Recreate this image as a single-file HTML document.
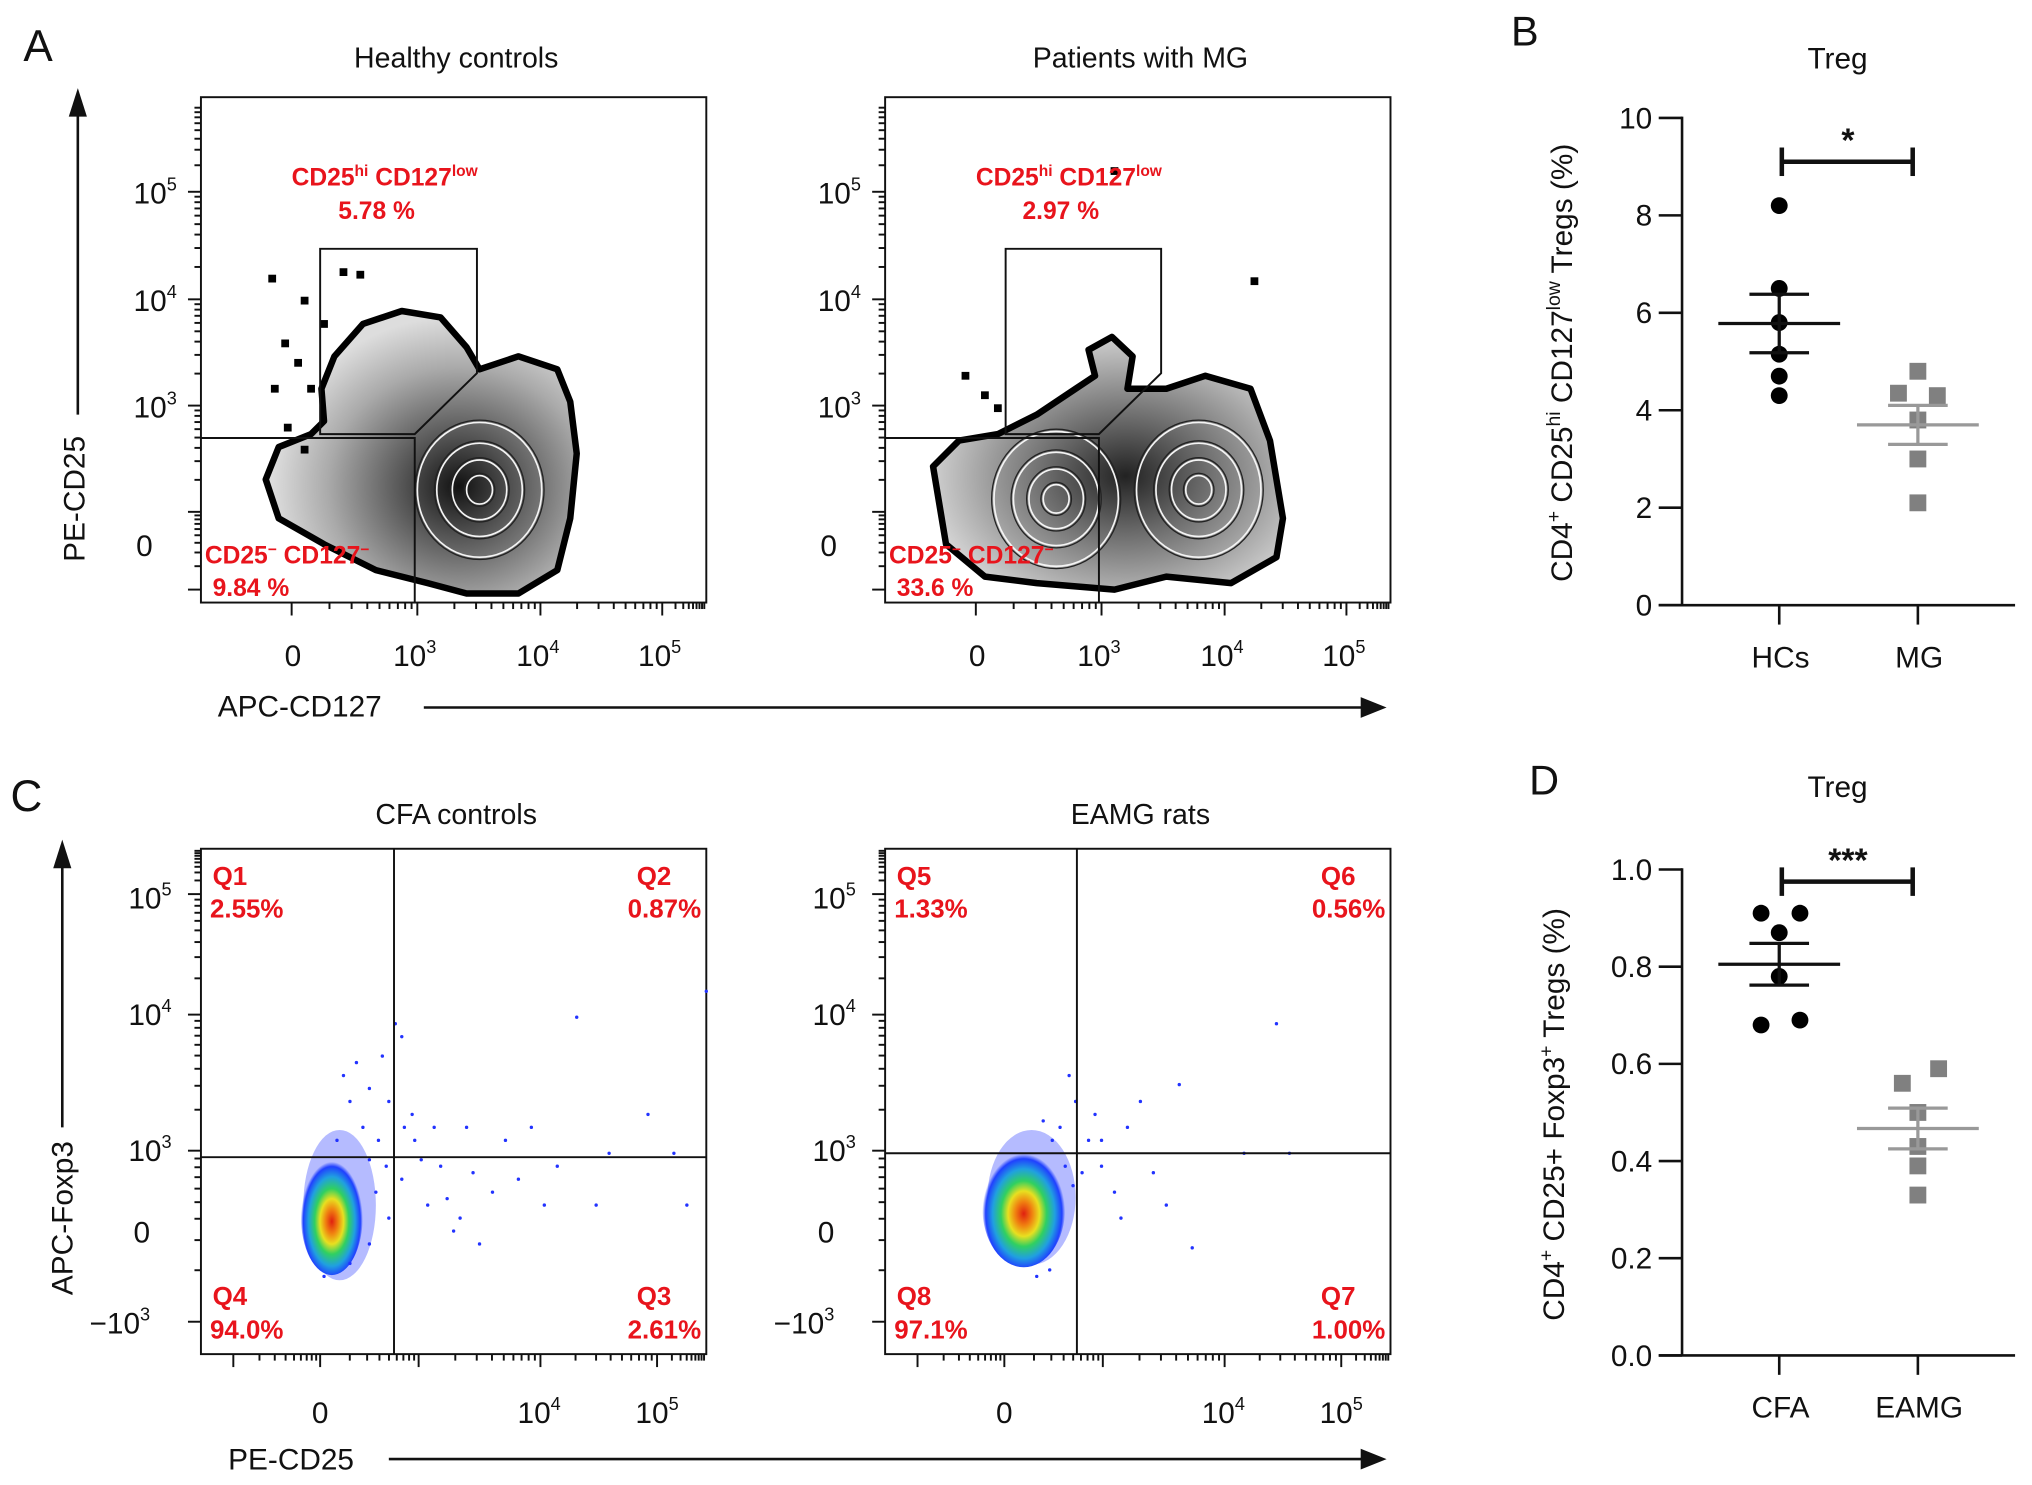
<!DOCTYPE html>
<html><head><meta charset="utf-8">
<style>
html,body{margin:0;padding:0;background:#fff;}
svg{display:block;}
text{font-family:"Liberation Sans",Arial,sans-serif;}
</style></head>
<body>
<svg id="fig" width="2032" height="1485" viewBox="0 0 1568 1146" xmlns="http://www.w3.org/2000/svg">
<defs>
<radialGradient id="grayA" cx="0.62" cy="0.62" r="0.6">
<stop offset="0" stop-color="#111"/><stop offset="0.3" stop-color="#555"/><stop offset="0.7" stop-color="#aaa"/><stop offset="1" stop-color="#ddd"/></radialGradient>
<radialGradient id="grayB" cx="0.55" cy="0.55" r="0.6">
<stop offset="0" stop-color="#222"/><stop offset="0.35" stop-color="#666"/><stop offset="0.75" stop-color="#b0b0b0"/><stop offset="1" stop-color="#ddd"/></radialGradient>
<radialGradient id="heat" cx="0.5" cy="0.55" r="0.5">
<stop offset="0" stop-color="#e02010"/><stop offset="0.2" stop-color="#f08010"/><stop offset="0.38" stop-color="#e8e020"/><stop offset="0.55" stop-color="#30d060"/><stop offset="0.75" stop-color="#20a0e0"/><stop offset="0.92" stop-color="#2040ff"/><stop offset="1" stop-color="#2040ff" stop-opacity="0"/></radialGradient>
</defs>
<g id="root"></g>
</svg>
<script>
// ---- Panel B data ----
const bCategories = ["HCs", "MG"];
const bHCs = [8.2, 6.5, 5.8, 5.15, 4.7, 4.3];
const bMG = [4.8, 4.35, 4.3, 3.8, 3.0, 2.1];
const bMean = [5.78, 3.7];
const bSem = [0.6, 0.4];
const bTicks = [0, 2, 4, 6, 8, 10];
// ---- Panel D data ----
const dCategories = ["CFA", "EAMG"];
const dCFA = [0.91, 0.91, 0.87, 0.78, 0.68, 0.69];
const dEAMG = [0.59, 0.56, 0.50, 0.43, 0.39, 0.33];
const dMean = [0.805, 0.467];
const dSem = [0.043, 0.042];
const dTicks = [0.0, 0.2, 0.4, 0.6, 0.8, 1.0];

const NS = "http://www.w3.org/2000/svg";
const root = document.getElementById("root");
function mk(tag, attrs, parent, txt) {
  const e = document.createElementNS(NS, tag);
  for (const k in attrs) e.setAttribute(k, attrs[k]);
  if (txt !== undefined) e.textContent = txt;
  (parent || root).appendChild(e);
  return e;
}
function txt(x, y, s, size, opts, name) {
  opts = opts || {};
  const t = mk("text", Object.assign({x: x, y: y, "font-size": size, fill: opts.fill || "#111", "text-anchor": opts.anchor || "start", "font-weight": opts.bold ? "bold" : "normal"}, opts.extra || {}));
  
  
  t.innerHTML = s;
  return t;
}
function line(x1, y1, x2, y2, w, c, name) {
  const l = mk("line", {x1: x1, y1: y1, x2: x2, y2: y2, stroke: c || "#111", "stroke-width": w || 1.5});
  
  
  return l;
}

txt(18, 47, "A", 34, {}, "panel-label-a");
txt(1166, 35, "B", 32, {}, "panel-label-b");
txt(8, 626, "C", 34, {}, "panel-label-c");
txt(1180, 613, "D", 32, {}, "panel-label-d");

function flowFrame(x0, y0, name) {
  const g = mk("g", {});
  
  
  mk("rect", {x: x0, y: y0, width: 390, height: 390, fill: "none", stroke: "#111", "stroke-width": 1.5}, g);
  return g;
}
function logMinor(g, x0, y0, decY, vertical, decs) {
  for (let i = 0; i < decs.length - 1; i++) {
    const a = decs[i], b = decs[i + 1];
    for (let m = 1; m <= 9; m++) {
      const p = a + (b - a) * Math.log10(m);
      const len = m === 1 ? 10 : 5;
      if (vertical) mk("line", {x1: x0 - len, y1: p, x2: x0, y2: p, stroke: "#111", "stroke-width": 1.5}, g);
      else mk("line", {x1: p, y1: y0, x2: p, y2: y0 + len, stroke: "#111", "stroke-width": 1.5}, g);
    }
  }
}

const aTitles = ["Healthy controls", "Patients with MG"];
const aHi = ["5.78 %", "2.97 %"];
const aLo = ["9.84 %", "33.6 %"];
[0, 1].forEach(function (k) {
  const ox = 155 + k * 528, oy = 75;
  const g = flowFrame(ox, oy, k ? "mg-flow-plot" : "hc-flow-plot");
  txt(ox + 197, 52, aTitles[k], 22, {anchor: "middle"}, "flow-title");
  logMinor(g, ox, oy, null, true, [455, 395, 313, 231, 148, 80]);
  logMinor(g, ox, oy + 390, null, false, [ox + 70, ox + 167, ox + 262, ox + 356, ox + 390]);
  txt(ox - 52, 157, "10<tspan font-size='14' dy='-10'>5</tspan>", 23, {}, "y-tick");
  txt(ox - 52, 240, "10<tspan font-size='14' dy='-10'>4</tspan>", 23, {}, "y-tick");
  txt(ox - 52, 322, "10<tspan font-size='14' dy='-10'>3</tspan>", 23, {}, "y-tick");
  txt(ox - 50, 429, "0", 23, {}, "y-tick");
  txt(ox + 71, 514, "0", 23, {anchor: "middle"}, "x-tick");
  [[167, 3], [262, 4], [356, 5]].forEach(function (p) {
    txt(ox + p[0] - 2, 514, "10<tspan font-size='14' dy='-10'>" + p[1] + "</tspan>", 23, {anchor: "middle"}, "x-tick");
  });
  let pts;
  if (k === 0) pts = [[205,370],[215,345],[240,335],[250,325],[248,300],[258,275],[280,250],[310,240],[340,245],[360,268],[370,285],[400,275],[430,285],[440,310],[445,350],[440,400],[430,440],[400,458],[360,458],[330,450],[290,440],[250,420],[215,400]];
  else pts = [[720,360],[740,340],[770,335],[800,320],[830,300],[845,290],[840,270],[858,260],[874,275],[870,300],[900,300],[930,290],[965,300],[980,340],[990,400],[985,430],[950,450],[900,445],[860,455],[800,450],[760,445],[730,420]];
  const blob = mk("polygon", {points: pts.map(function (p) { return p.join(","); }).join(" "), fill: k ? "url(#grayB)" : "url(#grayA)", stroke: "#000", "stroke-width": 5, "stroke-linejoin": "round"});
  
  
  const centers = k === 0 ? [[370, 378]] : [[815, 385], [925, 378]];
  centers.forEach(function (c) {
    [[48, 52], [33, 36], [21, 23], [10, 11]].forEach(function (r) {
      mk("ellipse", {cx: c[0], cy: c[1], rx: r[0], ry: r[1], fill: "none", stroke: "#f4f4f4", "stroke-width": 1.3});
      mk("ellipse", {cx: c[0], cy: c[1], rx: r[0] + 1.8, ry: r[1] + 1.8, fill: "none", stroke: "#222", "stroke-width": 1});
    });
  });
  const sp = k === 0 ? [[210,215],[235,232],[265,210],[278,212],[220,265],[230,280],[212,300],[240,300],[250,250],[222,330],[235,347]] : [[968,217],[860,132],[760,305],[745,290],[770,315]];
  sp.forEach(function (p) { mk("rect", {x: p[0] - 3, y: p[1] - 3, width: 6, height: 6, fill: "#000"}); });
  const gx = ox + (k ? 93 : 92);
  mk("polyline", {points: [ox, 338, ox + 165, 338, ox + 165, 465].join(" "), fill: "none", stroke: "#111", "stroke-width": 1.5});
  const gate = mk("polygon", {points: [gx, 192, ox + 213, 192, ox + 213, 288, ox + 165, 335, gx, 335].join(" "), fill: "none", stroke: "#111", "stroke-width": 1.5});
  
  
  txt(ox + 70, 143, "CD25<tspan font-size='12' dy='-7'>hi</tspan><tspan dy='7'> CD127</tspan><tspan font-size='12' dy='-7'>low</tspan>", 19, {fill: "#e8141c", bold: true}, "gate-label-hi");
  txt(ox + 106, 169, aHi[k], 19, {fill: "#e8141c", bold: true}, "gate-percent-hi");
  txt(ox + 3, 435, "CD25<tspan font-size='12' dy='-7'>−</tspan><tspan dy='7'> CD127</tspan><tspan font-size='12' dy='-7'>−</tspan>", 19, {fill: "#e8141c", bold: true}, "gate-label-lo");
  txt(ox + 9, 460, aLo[k], 19, {fill: "#e8141c", bold: true}, "gate-percent-lo");
});
line(60, 320, 60, 80, 2, "#111", "y-axis-arrow");
mk("polygon", {points: "53,90 60,68 67,90", fill: "#111"});
txt(65, 385, "PE-CD25", 23, {anchor: "middle", extra: {transform: "rotate(-90 65 385)"}}, "y-axis-title-a");
txt(168, 553, "APC-CD127", 23, {}, "x-axis-title-a");
line(327, 546, 1055, 546, 2, "#111", "x-axis-arrow");
mk("polygon", {points: "1050,538 1070,546 1050,554", fill: "#111"});

const cTitles = ["CFA controls", "EAMG rats"];
const cQ = [["Q1", "2.55%", "Q2", "0.87%", "Q4", "94.0%", "Q3", "2.61%"], ["Q5", "1.33%", "Q6", "0.56%", "Q8", "97.1%", "Q7", "1.00%"]];
[0, 1].forEach(function (k) {
  const ox = 155 + k * 528, oy = 655;
  const g = flowFrame(ox, oy, k ? "eamg-flow-plot" : "cfa-flow-plot");
  txt(ox + 197, 636, cTitles[k], 22, {anchor: "middle"}, "flow-title");
  logMinor(g, ox, oy, null, true, [1020, 888, 783, 690, 655]);
  logMinor(g, ox, oy + 390, null, false, [ox + 25, ox + 92, ox + 168, ox + 262, ox + 352, ox + 390]);
  [[693, 5], [783, 4], [888, 3]].forEach(function (p) {
    txt(ox - 56, p[0] + 8, "10<tspan font-size='14' dy='-10'>" + p[1] + "</tspan>", 23, {}, "y-tick");
  });
  txt(ox - 52, 959, "0", 23, {}, "y-tick");
  txt(ox - 86, 1029, "−10<tspan font-size='14' dy='-10'>3</tspan>", 23, {}, "y-tick");
  txt(ox + 92, 1098, "0", 23, {anchor: "middle"}, "x-tick");
  txt(ox + 261, 1098, "10<tspan font-size='14' dy='-10'>4</tspan>", 23, {anchor: "middle"}, "x-tick");
  txt(ox + 352, 1098, "10<tspan font-size='14' dy='-10'>5</tspan>", 23, {anchor: "middle"}, "x-tick");
  const cx = k ? 790 : 256, cy = k ? 932 : 938;
  const halo = mk("ellipse", {cx: cx + 6, cy: cy - 8, rx: k ? 34 : 28, ry: k ? 52 : 58, fill: "#2a3cff", opacity: 0.35});
  
  
  const hot = mk("ellipse", {cx: cx, cy: cy, rx: k ? 32 : 24, ry: k ? 46 : 46, fill: "url(#heat)"});
  
  
  const sparse = k ? [[850,880],[870,870],[890,905],[910,837],[960,890],[985,790],[995,890],[920,963],[860,920],[845,860],[880,850],[900,930],[830,850],[825,830],[818,870],[822,900],[835,905],[812,880],[805,865],[840,880],[828,915],[810,980],[800,985],[850,900],[865,940]] :
    [[320,880],[340,900],[360,870],[380,920],[400,910],[420,930],[445,785],[470,890],[500,860],[530,930],[545,765],[310,800],[305,790],[330,930],[355,940],[390,880],[300,850],[285,840],[275,820],[460,930],[520,890],[430,900],[410,870],[370,960],[350,950],[270,850],[280,870],[292,880],[298,900],[310,910],[318,860],[325,895],[290,920],[300,940],[285,960],[270,975],[265,830],[295,815],[312,870],[335,870],[345,925],[365,905],[285,895],[260,880],[250,985]];
  sparse.forEach(function (p) { mk("circle", {cx: p[0], cy: p[1], r: 1.3, fill: "#2233ff"}); });
  const vx = k ? 831 : 304, hy = k ? 890 : 893;
  line(vx, oy, vx, oy + 390, 1.5, "#111", "quadrant-vline");
  line(ox, hy, ox + 390, hy, 1.5, "#111", "quadrant-hline");
  const q = cQ[k], red = {fill: "#e8141c", bold: true};
  txt(ox + 9, 683, q[0], 20, red, "quadrant-name");
  txt(ox + 7, 708, q[1], 20, red, "quadrant-percent");
  txt(ox + 363, 683, q[2], 20, Object.assign({anchor: "end"}, red), "quadrant-name");
  txt(ox + 386, 708, q[3], 20, Object.assign({anchor: "end"}, red), "quadrant-percent");
  txt(ox + 9, 1007, q[4], 20, red, "quadrant-name");
  txt(ox + 7, 1033, q[5], 20, red, "quadrant-percent");
  txt(ox + 363, 1007, q[6], 20, Object.assign({anchor: "end"}, red), "quadrant-name");
  txt(ox + 386, 1033, q[7], 20, Object.assign({anchor: "end"}, red), "quadrant-percent");
});
line(48, 870, 48, 660, 2, "#111", "y-axis-arrow");
mk("polygon", {points: "41,670 48,648 55,670", fill: "#111"});
txt(56, 940, "APC-Foxp3", 23, {anchor: "middle", extra: {transform: "rotate(-90 56 940)"}}, "y-axis-title-c");
txt(176, 1134, "PE-CD25", 23, {}, "x-axis-title-c");
line(300, 1126, 1055, 1126, 2, "#111", "x-axis-arrow");
mk("polygon", {points: "1050,1118 1070,1126 1050,1134", fill: "#111"});

function dotPlot(cfg) {
  const g = mk("g", {});
  
  
  const y = function (v) { return cfg.y0 - (v - cfg.vmin) / (cfg.vmax - cfg.vmin) * (cfg.y0 - cfg.y1); };
  const xs = [1373, 1480];
  mk("line", {x1: 1298, y1: cfg.y1 - 1, x2: 1298, y2: cfg.y0, stroke: "#111", "stroke-width": 2}, g);
  mk("line", {x1: 1280, y1: cfg.y0, x2: 1555, y2: cfg.y0, stroke: "#111", "stroke-width": 2}, g);
  cfg.ticks.forEach(function (t) {
    mk("line", {x1: 1280, y1: y(t), x2: 1298, y2: y(t), stroke: "#111", "stroke-width": 2}, g);
    txt(1275, y(t) + 8, cfg.fmt(t), 23, {anchor: "end"}, "y-tick");
  });
  cfg.cats.forEach(function (c, i) {
    mk("line", {x1: xs[i], y1: cfg.y0, x2: xs[i], y2: cfg.y0 + 15, stroke: "#111", "stroke-width": 2}, g);
    txt(xs[i] + 1, cfg.y0 + 48, c, 23, {anchor: "middle"}, "x-category-label");
  });
  cfg.s1.forEach(function (v, i) {
    const c = mk("circle", {cx: xs[0] + cfg.off1[i], cy: y(v), r: 6.5, fill: "#000"}, g);
    
    
  });
  cfg.s2.forEach(function (v, i) {
    const r = mk("rect", {x: xs[1] + cfg.off2[i] - 6.5, y: y(v) - 6.5, width: 13, height: 13, fill: "#808080"}, g);
    
    
  });
  [0, 1].forEach(function (i) {
    const col = i ? "#999" : "#111";
    const m = cfg.mean[i], s = cfg.sem[i];
    const e1 = mk("line", {x1: xs[i] - 47, y1: y(m), x2: xs[i] + 47, y2: y(m), stroke: col, "stroke-width": 2.5}, g);
    
    
    mk("line", {x1: xs[i], y1: y(m + s), x2: xs[i], y2: y(m - s), stroke: col, "stroke-width": 2.5}, g);
    mk("line", {x1: xs[i] - 23, y1: y(m + s), x2: xs[i] + 23, y2: y(m + s), stroke: col, "stroke-width": 2.5}, g);
    mk("line", {x1: xs[i] - 23, y1: y(m - s), x2: xs[i] + 23, y2: y(m - s), stroke: col, "stroke-width": 2.5}, g);
  });
  const sy = y(cfg.sig);
  mk("line", {x1: xs[0] + 2, y1: sy, x2: xs[1] - 4, y2: sy, stroke: "#111", "stroke-width": 3.5}, g);
  mk("line", {x1: xs[0] + 2, y1: sy - 11, x2: xs[0] + 2, y2: sy + 11, stroke: "#111", "stroke-width": 3.5}, g);
  mk("line", {x1: xs[1] - 4, y1: sy - 11, x2: xs[1] - 4, y2: sy + 11, stroke: "#111", "stroke-width": 3.5}, g);
  txt(1426, sy - 8, cfg.star, 26, {anchor: "middle", bold: true}, "significance-marker");
  txt(1418, cfg.titleY, "Treg", 23, {anchor: "middle"}, "plot-title");
}
dotPlot({name: "treg-hc-mg-plot", y0: 467, y1: 91, vmin: 0, vmax: 10, ticks: bTicks, fmt: function (t) { return String(t); },
  cats: bCategories, s1: bHCs, s2: bMG, off1: [0, 0, 0, 0, 0, 0], off2: [0, -15, 15, 0, 0, 0],
  mean: bMean, sem: bSem, sig: 9.1, star: "*", titleY: 53});
dotPlot({name: "treg-cfa-eamg-plot", y0: 1046, y1: 671, vmin: 0, vmax: 1, ticks: dTicks, fmt: function (t) { return t.toFixed(1); },
  cats: dCategories, s1: dCFA, s2: dEAMG, off1: [-14, 16, 0, 0, -14, 16], off2: [16, -12, 0, 0, 0, 0],
  mean: dMean, sem: dSem, sig: 0.975, star: "***", titleY: 615});

txt(1213, 280, "CD4<tspan font-size='15' dy='-9'>+</tspan><tspan dy='9'> CD25</tspan><tspan font-size='15' dy='-9'>hi</tspan><tspan dy='9'> CD127</tspan><tspan font-size='15' dy='-9'>low</tspan><tspan dy='9'> Tregs (%)</tspan>", 23, {anchor: "middle", extra: {transform: "rotate(-90 1213 280)"}}, "y-axis-title-b");
txt(1207, 860, "CD4<tspan font-size='15' dy='-9'>+</tspan><tspan dy='9'> CD25+ Foxp3</tspan><tspan font-size='15' dy='-9'>+</tspan><tspan dy='9'> Tregs (%)</tspan>", 23, {anchor: "middle", extra: {transform: "rotate(-90 1207 860)"}}, "y-axis-title-d");
</script>
</body></html>
